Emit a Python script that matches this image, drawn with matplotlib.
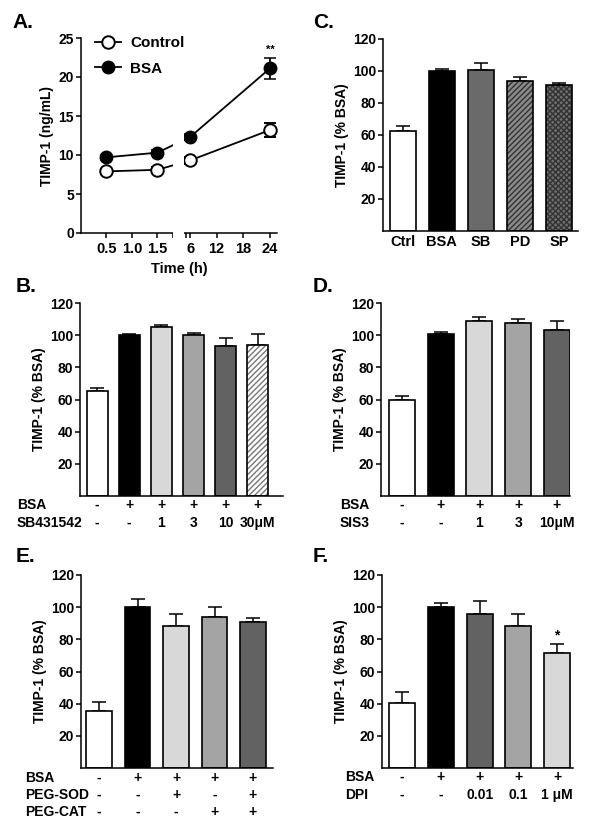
import numpy as np
import matplotlib
matplotlib.use("Agg")
import matplotlib.pyplot as plt
from matplotlib.patches import Rectangle
from matplotlib.lines import Line2D
from matplotlib.transforms import blended_transform_factory

plt.rcParams['font.family'] = ['Liberation Sans', 'DejaVu Sans']
plt.rcParams['font.weight'] = 'bold'
plt.rcParams['axes.labelweight'] = 'bold'
plt.rcParams['axes.linewidth'] = 1.1
plt.rcParams['xtick.major.width'] = 1.1
plt.rcParams['ytick.major.width'] = 1.1
plt.rcParams['xtick.major.size'] = 3.5
plt.rcParams['ytick.major.size'] = 3.5
plt.rcParams['font.size'] = 10

# ---- data ----
# A: time course
time_h = [0.5, 1.5, 6, 24]
ctrl_ng = [7.9, 8.1, 9.3, 13.2]
ctrl_err = [0.3, 0.3, 0.4, 0.9]
bsa_ng = [9.7, 10.3, 12.3, 21.1]
bsa_err = [0.3, 0.3, 0.4, 1.4]

# B: SB431542
b_vals = [65, 100, 105, 100, 93, 94]
b_err = [2, 0.7, 1.5, 1.5, 5, 6.5]
b_rows = [("BSA", ["-", "+", "+", "+", "+", "+"]),
          ("SB431542", ["-", "-", "1", "3", "10", "30\u03bcM"])]

# C: inhibitors
c_labels = ["Ctrl", "BSA", "SB", "PD", "SP"]
c_vals = [62.5, 100, 100.5, 94, 91]
c_err = [3, 1, 4.5, 2, 1.5]

# D: SIS3
d_vals = [60, 100.5, 108.5, 107.5, 103.5]
d_err = [2, 1.5, 2.5, 2.5, 5]
d_rows = [("BSA", ["-", "+", "+", "+", "+"]),
          ("SIS3", ["-", "-", "1", "3", "10\u03bcM"])]

# E: PEG-SOD / PEG-CAT
e_vals = [35.5, 100, 88.5, 94, 90.5]
e_err = [5.5, 5, 7.5, 6, 3]
e_rows = [("BSA", ["-", "+", "+", "+", "+"]),
          ("PEG-SOD", ["-", "-", "+", "-", "+"]),
          ("PEG-CAT", ["-", "-", "-", "+", "+"])]

# F: DPI
f_vals = [40.5, 100, 95.5, 88.5, 71.5]
f_err = [6.5, 2.5, 8.5, 7.5, 5.5]
f_rows = [("BSA", ["-", "+", "+", "+", "+"]),
          ("DPI", ["-", "-", "0.01", "0.1", "1 \u03bcM"])]

W, H = 600, 831
fig = plt.figure(figsize=(W / 100, H / 100), dpi=100)


def add_ax(x0, x1, ytop, ybot):
    return fig.add_axes([x0 / W, 1 - ybot / H, (x1 - x0) / W, (ybot - ytop) / H])


def style(ax):
    ax.spines['top'].set_visible(False)
    ax.spines['right'].set_visible(False)
    ax.tick_params(labelsize=10, pad=1.5)


def bar_panel(ax, vals, errs, colors, hatches, xlim, width=0.67):
    x = np.arange(len(vals))
    for i in range(len(vals)):
        if hatches[i]:
            ax.bar(x[i], vals[i], width, color=colors[i], edgecolor=hatches[i][1],
                   hatch=hatches[i][0], linewidth=0, zorder=2)
            ax.bar(x[i], vals[i], width, color='none', edgecolor='black',
                   linewidth=1.2, zorder=3)
        else:
            ax.bar(x[i], vals[i], width, color=colors[i], edgecolor='black',
                   linewidth=1.2, zorder=2)
    ax.errorbar(x, vals, yerr=[np.zeros(len(errs)), errs], fmt='none',
                ecolor='black', elinewidth=1.1, capsize=5, capthick=1.1, zorder=1)
    ax.set_ylim(0, 120)
    ax.set_yticks([20, 40, 60, 80, 100, 120])
    ax.set_xlim(*xlim)
    ax.set_ylabel("TIMP-1 (% BSA)", fontsize=10, labelpad=3)
    style(ax)


def cond_rows(ax, rows, head_x, row_y):
    tr = blended_transform_factory(ax.transData, fig.transFigure)
    ax.set_xticks([])
    for (head, cells), yy in zip(rows, row_y):
        fig.text(head_x / W, 1 - yy / H, head, ha='left', va='center',
                 fontsize=10, fontweight='bold')
        for i, c in enumerate(cells):
            ax.text(i, 1 - yy / H, c, transform=tr, ha='center', va='center',
                    fontsize=10, fontweight='bold')


def panel_letter(x, y, s):
    fig.text(x / W, 1 - y / H, s, ha='left', va='center', fontsize=15,
             fontweight='bold')


# ---- A ----
xp = [-10, 0, 1.8, 5, 25.6, 100]
fp = [-10, 0, 1.8, 2.055, 2.055 + 20.6 * 0.0871, 2.055 + 95 * 0.0871]


def fwd(v):
    return np.interp(v, xp, fp)


def inv(v):
    return np.interp(v, fp, xp)


axA = add_ax(81, 277, 38, 233)
axA.set_xscale('function', functions=(fwd, inv))
axA.set_xlim(0, 25.6)
axA.set_ylim(0, 25)
axA.errorbar(time_h, ctrl_ng, yerr=ctrl_err, fmt='-o', color='black', mfc='white',
             mec='black', ms=9, mew=1.4, lw=1.3, capsize=4, capthick=1.1,
             clip_on=False, zorder=3)
axA.errorbar(time_h, bsa_ng, yerr=bsa_err, fmt='-o', color='black', mfc='black',
             ms=9, lw=1.3, capsize=4, capthick=1.1, clip_on=False, zorder=3)
axA.add_patch(Rectangle((1.84, -0.04), 4.7 - 1.84, 1.04,
                        transform=blended_transform_factory(axA.transData, axA.transAxes),
                        facecolor='white', edgecolor='none', zorder=5, clip_on=False))
axA.set_xticks([0.5, 1.0, 1.5, 1.8, 5, 6, 12, 18, 24])
axA.set_xticklabels(["0.5", "1.0", "1.5", "", "", "6", "12", "18", "24"])
axA.set_yticks([0, 5, 10, 15, 20, 25])
axA.set_xlabel("Time (h)", fontsize=10.5, labelpad=4)
axA.set_ylabel("TIMP-1 (ng/mL)", fontsize=10, labelpad=3)
style(axA)
axA.tick_params(axis='x', labelsize=10.5, pad=3)
axA.text(24, 22.9, "**", ha='center', va='bottom', fontsize=8)
handles = [Line2D([], [], color='black', marker='o', mfc='white', mec='black',
                  ms=9, mew=1.4, lw=1.3),
           Line2D([], [], color='black', marker='o', mfc='black', ms=9, lw=1.3)]
axA.legend(handles, ['Control', 'BSA'], loc='upper left', bbox_to_anchor=(0.0, 1.08),
           frameon=False, handlelength=1.7, handletextpad=0.6,
           labelspacing=0.75, prop={'weight': 'bold', 'size': 11})

# ---- C ----
axC = add_ax(383, 578, 39, 231)
bar_panel(axC, c_vals, c_err,
          ['white', 'black', '#6a6a6a', '#8a8a8a', '#6e6e6e'],
          [None, None, None, ('//////', '#333333'), ('xxxxxx', '#333333')],
          (-0.51, 4.49))
axC.set_xticks(range(len(c_labels)))
axC.set_xticklabels(c_labels, fontsize=10.5)
axC.tick_params(axis='x', length=0, pad=3)

# ---- B ----
axB = add_ax(80, 283, 303, 496)
bar_panel(axB, b_vals, b_err,
          ['white', 'black', '#d8d8d8', '#a4a4a4', '#626262', 'white'],
          [None, None, None, None, None, ('//////', '#777777')],
          (-0.53, 5.78), width=0.65)
cond_rows(axB, b_rows, 17, [505, 523])

# ---- D ----
axD = add_ax(381, 570, 303, 496)
bar_panel(axD, d_vals, d_err,
          ['white', 'black', '#d8d8d8', '#a4a4a4', '#626262'],
          [None] * 5, (-0.54, 4.34))
cond_rows(axD, d_rows, 340, [505, 523])

# ---- E ----
axE = add_ax(81, 273, 575, 768)
bar_panel(axE, e_vals, e_err,
          ['white', 'black', '#d8d8d8', '#a4a4a4', '#626262'],
          [None] * 5, (-0.47, 4.52))
cond_rows(axE, e_rows, 25, [778, 795, 812])

# ---- F ----
axF = add_ax(382, 573, 575, 768)
bar_panel(axF, f_vals, f_err,
          ['white', 'black', '#626262', '#a4a4a4', '#d8d8d8'],
          [None] * 5, (-0.52, 4.41))
cond_rows(axF, f_rows, 345, [777, 795])
axF.text(4, f_vals[4] + f_err[4] + 1, "*", ha='center', va='bottom', fontsize=10)

panel_letter(12, 23, "A.")
panel_letter(313, 22, "C.")
panel_letter(16, 287, "B.")
panel_letter(313, 287, "D.")
panel_letter(16, 556, "E.")
panel_letter(313, 556, "F.")

fig.savefig("out.png", dpi=100, facecolor='white')
